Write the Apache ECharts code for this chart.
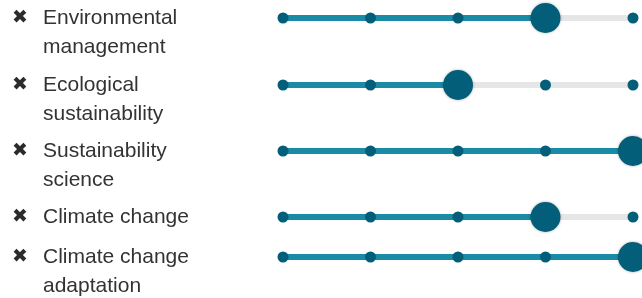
<!DOCTYPE html>
<html>
<head>
<meta charset="utf-8">
<script src="https://cdn.jsdelivr.net/npm/echarts@6/dist/echarts.min.js"></script>
<style>
  html, body { margin: 0; padding: 0; background: #fff; }
  #chart { width: 642px; height: 298px; }
</style>
</head>
<body>
<div id="chart"></div>
<script>
  // topics and their rating on a 1..5 scale
  var topics = [
    "Environmental\nmanagement",
    "Ecological\nsustainability",
    "Sustainability\nscience",
    "Climate change",
    "Climate change\nadaptation"
  ];
  var ratings = [4, 3, 5, 4, 5];
  var levels = [1, 2, 3, 4, 5];

  var myChart = echarts.init(document.getElementById("chart"));

  // row centre line (px) of each track
  var rowY = [18, 85, 151, 217, 257];

  var grids = [], xAxes = [], yAxes = [], series = [];

  topics.forEach(function (name, i) {
    grids.push({ left: 283, right: 9, top: rowY[i] - 10, height: 20, outerBoundsMode: "none" });
    xAxes.push({
      gridIndex: i, type: "value", min: 1, max: 5,
      show: false
    });
    yAxes.push({
      gridIndex: i, type: "category", data: [name],
      axisLine: { show: false }, axisTick: { show: false },
      axisLabel: {
        align: "left",
        margin: 271,
        lineHeight: 29,
        formatter: function (v) {
          var lines = v.split("\n");
          var out = "{i|✖}{t|" + lines[0] + "}";
          if (lines.length > 1) {
            // blank first line keeps the first text line on the track
            out = "{t| }\n" + out + "\n{p|}{t|" + lines[1] + "}";
          }
          return out;
        },
        rich: {
          i: { width: 31, fontSize: 19, fontFamily: "DejaVu Sans", color: "#2b2b2b", lineHeight: 29 },
          p: { width: 31, lineHeight: 29 },
          t: { fontSize: 21, fontFamily: "Liberation Sans", color: "#333", lineHeight: 29 }
        }
      }
    });
    var cat = name;
    series.push({
      type: "line", xAxisIndex: i, yAxisIndex: i, silent: true, clip: false, z: 1,
      symbol: "none", lineStyle: { width: 6, color: "#e6e6e6" },
      data: [[levels[0], cat], [levels[levels.length - 1], cat]]
    });
    series.push({
      type: "line", xAxisIndex: i, yAxisIndex: i, silent: true, clip: false, z: 2,
      symbol: "none", lineStyle: { width: 6, color: "#1a8ba7" },
      data: [[levels[0], cat], [ratings[i], cat]]
    });
    series.push({
      type: "scatter", xAxisIndex: i, yAxisIndex: i, silent: true, clip: false, z: 4,
      symbol: "circle", symbolSize: 11,
      itemStyle: { color: "#035e79", opacity: 1 },
      data: levels.map(function (l) { return [l, cat]; })
    });
    series.push({
      type: "scatter", xAxisIndex: i, yAxisIndex: i, silent: true, clip: false, z: 5,
      symbol: "circle", symbolSize: 30,
      itemStyle: {
        color: "#035e79", opacity: 1,
        shadowColor: "rgba(0,0,0,0.3)", shadowBlur: 3
      },
      data: [[ratings[i], cat]]
    });
  });

  myChart.setOption({
    animation: false,
    grid: grids,
    xAxis: xAxes,
    yAxis: yAxes,
    series: series
  });
</script>
</body>
</html>
